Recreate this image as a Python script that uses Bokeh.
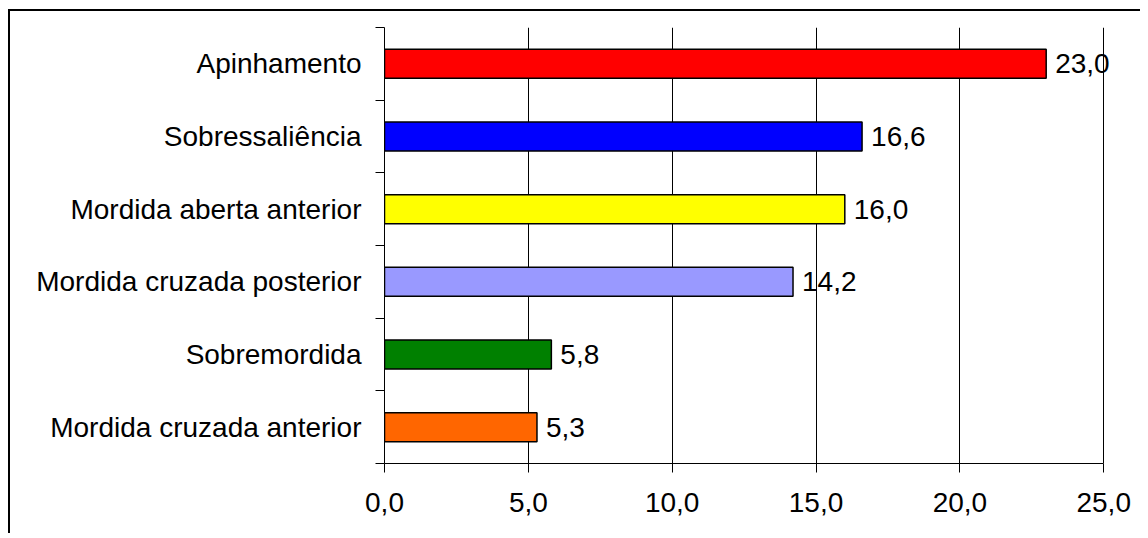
from bokeh.plotting import figure
from bokeh.models import (ColumnDataSource, FixedTicker, LinearAxis, Range1d,
                          LabelSet)
from bokeh.core.properties import value
from bokeh.embed import file_html
from bokeh.resources import INLINE

# data (top to bottom as in the chart)
categories = ["Apinhamento", "Sobressaliência", "Mordida aberta anterior",
              "Mordida cruzada posterior", "Sobremordida", "Mordida cruzada anterior"]
values = [23.0, 16.6, 16.0, 14.2, 5.8, 5.3]
colors = ["#FF0000", "#0000FF", "#FFFF00", "#9999FF", "#008000", "#FF6600"]
x_ticks = [0, 5, 10, 15, 20, 25]
x_tick_labels = ["0,0", "5,0", "10,0", "15,0", "20,0", "25,0"]

n = len(categories)
ypos = [n - i - 0.5 for i in range(n)]
labels = [f"{v:.1f}".replace(".", ",") for v in values]

src = ColumnDataSource(dict(y=ypos, v=values, c=colors, lab=labels, cat=categories))

FONT = "Liberation Sans"
FS = "28px"

p = figure(width=1130, height=522, output_backend="svg", toolbar_location=None,
           x_range=Range1d(0, 26), y_range=Range1d(0, n),
           min_border_left=374, min_border_right=10, min_border_top=16,
           min_border_bottom=72, x_axis_location=None, y_axis_location=None)
p.outline_line_color = None
p.background_fill_color = "white"
p.border_fill_color = "white"
p.styles = {"border-left": "2px solid black", "border-top": "2px solid black",
            "margin-left": "8px", "margin-top": "9px",
            "box-sizing": "content-box"}

# x axis
xa = LinearAxis(ticker=FixedTicker(ticks=x_ticks), bounds=(0, 25))
xa.major_label_overrides = {t: l for t, l in zip(x_ticks, x_tick_labels)}
xa.major_tick_out = 9
xa.major_tick_in = 0
xa.minor_tick_line_color = None
xa.axis_line_color = "black"
xa.major_tick_line_color = "black"
xa.major_label_text_font = FONT
xa.major_label_text_font_size = FS
xa.major_label_text_color = "black"
xa.major_label_standoff = 20
p.add_layout(xa, "below")

# y axis
ya = LinearAxis(ticker=FixedTicker(ticks=ypos, minor_ticks=list(range(n + 1))))
ya.major_label_overrides = {y: c for y, c in zip(ypos, categories)}
ya.major_tick_line_color = None
ya.major_tick_out = 0
ya.major_tick_in = 0
ya.minor_tick_out = 9
ya.minor_tick_in = 0
ya.minor_tick_line_color = "black"
ya.axis_line_color = "black"
ya.major_label_text_font = FONT
ya.major_label_text_font_size = FS
ya.major_label_text_color = "black"
ya.major_label_standoff = 14
p.add_layout(ya, "left")

p.xgrid.ticker = FixedTicker(ticks=x_ticks)
p.xgrid.grid_line_color = "black"
p.xgrid.grid_line_width = 1
p.ygrid.grid_line_color = None

p.hbar(y="y", right="v", left=0, height=0.4, fill_color="c", line_color="black",
       line_width=1.5, source=src)
p.add_layout(LabelSet(x="v", y="y", text="lab", x_offset=9, text_baseline="middle",
                      text_align="left", text_font=value(FONT),
                      text_font_size=value(FS), text_color="black", source=src))

open("out.html", "w").write(file_html(p, INLINE))
